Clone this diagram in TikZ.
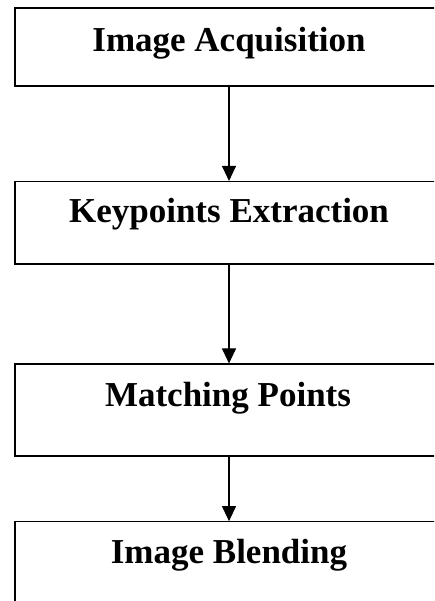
\documentclass[tikz,border=0pt]{standalone}
\usepackage{fontspec}
\setmainfont{Liberation Serif}
\usetikzlibrary{arrows.meta}
\begin{document}
\begin{tikzpicture}[x=1pt,y=1pt,
  stagebox/.style={draw=black,line width=1.1pt,rectangle,inner sep=0pt,minimum width=428pt},
  stagetext/.style={anchor=base,inner sep=0pt,font=\fontsize{35}{40}\selectfont\bfseries},
  flow/.style={line width=1.1pt,-{Triangle[length=15pt,width=14pt]}}]
\useasboundingbox (0,0) rectangle (434,601);
\clip (0,0) rectangle (434,601);
\node[stagebox,minimum height=78pt] (b1) at (229,554) {};
\node[stagebox,minimum height=82.5pt] (b2) at (229,378.25) {};
\node[stagebox,minimum height=92pt] (b3) at (229,191) {};
\node[stagebox,minimum height=89.3pt] (b4) at (229,34.65) {};
\node[stagetext] (t1) at (229,549) {Image Acquisition};
\node[stagetext] (t2) at (229,378) {Keypoints Extraction};
\node[stagetext] (t3) at (228,194.3) {Matching Points};
\node[stagetext] (t4) at (229,37) {Image Blending};
\draw[flow] (b1.south) -- (b2.north);
\draw[flow] (b2.south) -- (b3.north);
\draw[flow] (b3.south) -- (b4.north);
\end{tikzpicture}
\end{document}
